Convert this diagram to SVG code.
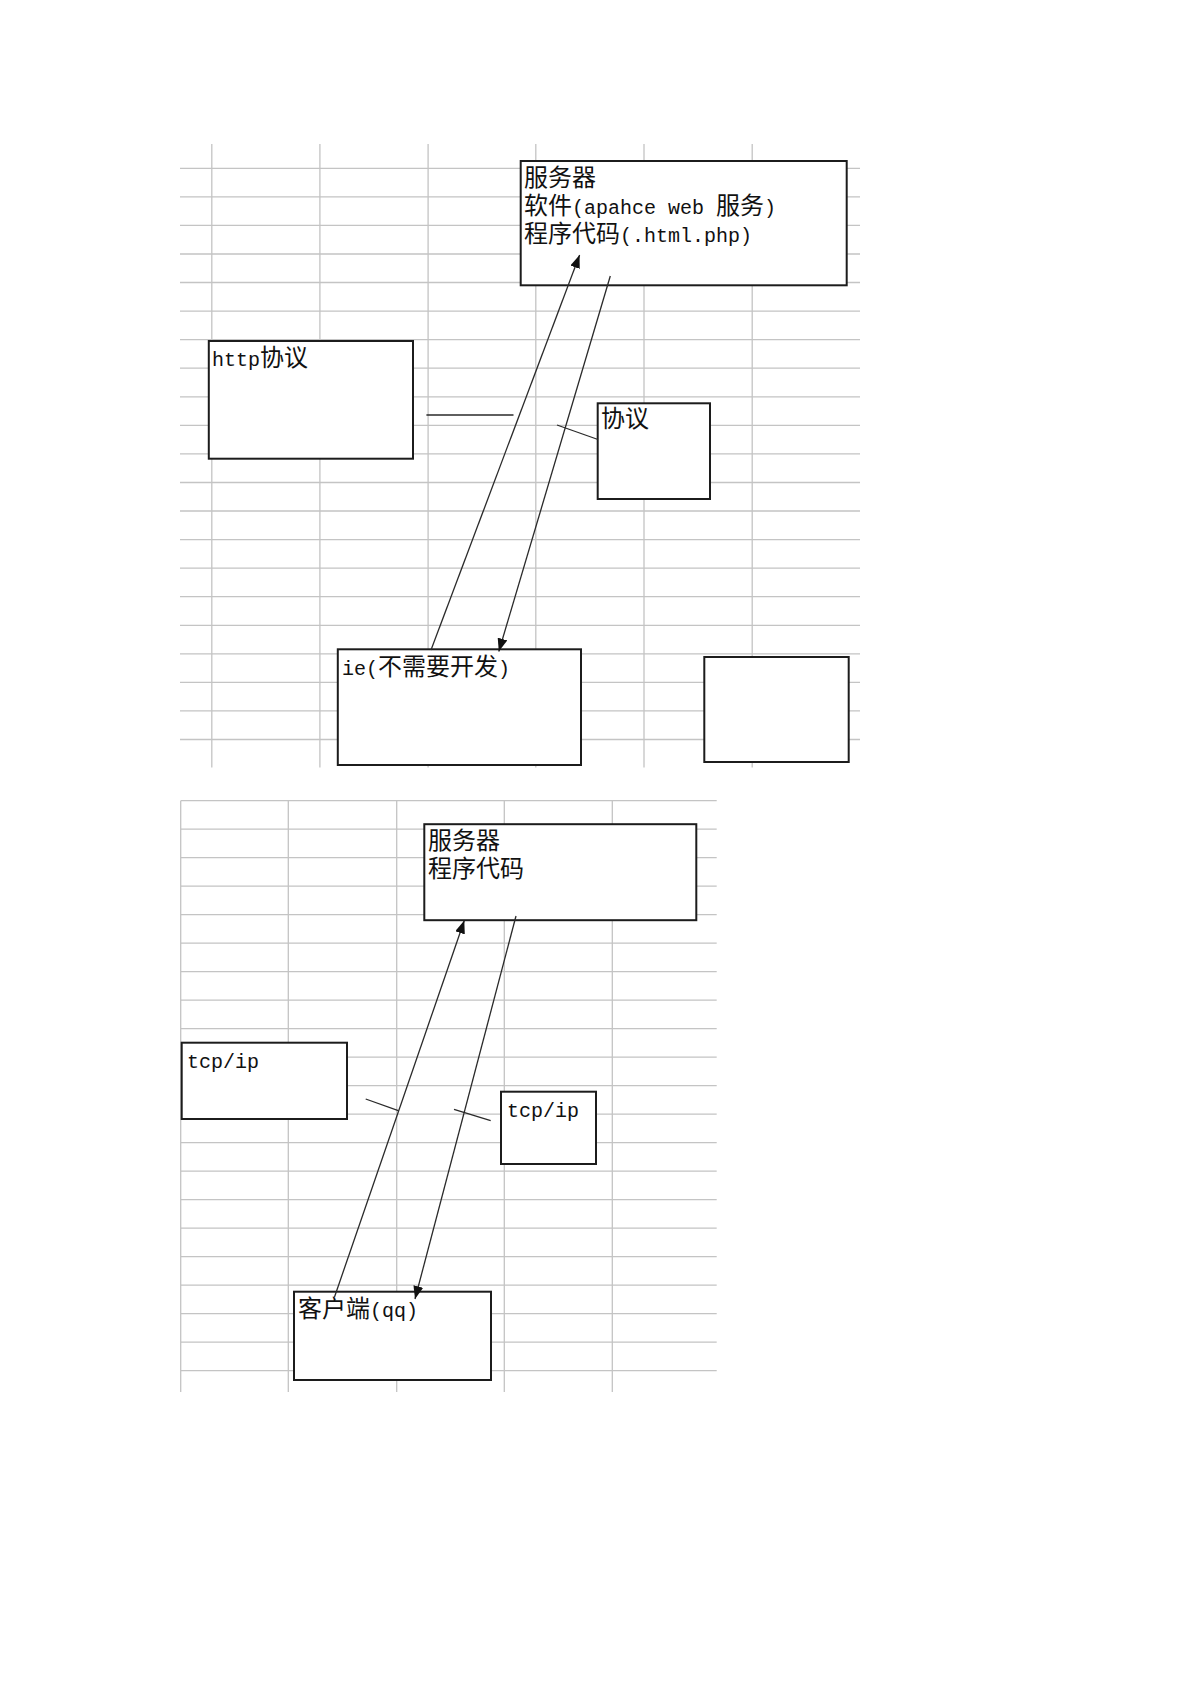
<svg xmlns="http://www.w3.org/2000/svg" width="1192" height="1685" viewBox="0 0 1192 1685">
<style>
.grid{fill:none;stroke:#c4c4c4;stroke-width:1.3}
.box{fill:#fff;stroke:#1c1c1c;stroke-width:2}
.ln{fill:none;stroke:#2a2a2a;stroke-width:1.3}
.arr{marker-end:url(#ah)}
.t{fill:#111}
.c{font-family:"Noto Sans CJK SC","Noto Sans CJK TC",sans-serif;font-size:24px}
.l{font-family:"Liberation Mono","DejaVu Sans Mono",monospace;font-size:20px}
</style>
<defs>
<marker id="ah" markerUnits="userSpaceOnUse" markerWidth="14" markerHeight="10" refX="13" refY="5" orient="auto">
<path d="M0,0 L13,5 L0,10 Z" fill="#111"/>
</marker>
</defs>
<rect width="1192" height="1685" fill="#fff"/>
<g id="grid-top">
<path class="grid" d="M180,168.3H860M180,196.9H860M180,225.4H860M180,254H860M180,282.5H860M180,311.1H860M180,339.7H860M180,368.2H860M180,396.8H860M180,425.3H860M180,453.9H860M180,482.5H860M180,511H860M180,539.6H860M180,568.1H860M180,596.7H860M180,625.3H860M180,653.8H860M180,682.4H860M180,710.9H860M180,739.5H860"/>
<path class="grid" d="M211.8,144V767.5M319.9,144V767.5M428.1,144V767.5M535.8,144V767.5M644,144V767.5M752.2,144V767.5"/>
</g>
<g id="grid-bottom">
<path class="grid" d="M180.7,800.7H716.7M180.7,829.2H716.7M180.7,857.7H716.7M180.7,886.2H716.7M180.7,914.7H716.7M180.7,943.2H716.7M180.7,971.7H716.7M180.7,1000.2H716.7M180.7,1028.7H716.7M180.7,1057.2H716.7M180.7,1085.7H716.7M180.7,1114.2H716.7M180.7,1142.7H716.7M180.7,1171.2H716.7M180.7,1199.7H716.7M180.7,1228.2H716.7M180.7,1256.7H716.7M180.7,1285.2H716.7M180.7,1313.7H716.7M180.7,1342.2H716.7M180.7,1370.7H716.7"/>
<path class="grid" d="M180.7,800.7V1392M288.3,800.7V1392M396.7,800.7V1392M504.3,800.7V1392M612.3,800.7V1392"/>
</g>
<g id="server1">
<rect class="box" x="520.7" y="161" width="326" height="124.3"/>
<text class="t" x="524" y="185.5"><tspan class="c">服务器</tspan></text>
<text class="t" x="524" y="213.5"><tspan class="c">软件</tspan><tspan class="l" xml:space="preserve">(apahce web </tspan><tspan class="c">服务</tspan><tspan class="l">)</tspan></text>
<text class="t" x="524" y="241.5"><tspan class="c">程序代码</tspan><tspan class="l">(.html.php)</tspan></text>
</g>
<g id="http">
<rect class="box" x="208.8" y="341" width="204.2" height="117.7"/>
<text class="t" x="212" y="365.5"><tspan class="l">http</tspan><tspan class="c">协议</tspan></text>
</g>
<g id="protocol">
<rect class="box" x="597.7" y="403.3" width="112.3" height="95.7"/>
<text class="t c" x="601" y="427">协议</text>
</g>
<g id="ie">
<rect class="box" x="337.8" y="649.3" width="243.2" height="115.7"/>
<text class="t" x="342" y="674.5"><tspan class="l">ie(</tspan><tspan class="c">不需要开发</tspan><tspan class="l">)</tspan></text>
</g>
<g id="empty">
<rect class="box" x="704.3" y="657" width="144.4" height="105"/>
</g>
<g id="server2">
<rect class="box" x="424.3" y="824.2" width="272" height="96"/>
<text class="t c" x="428" y="849">服务器</text>
<text class="t c" x="428" y="877">程序代码</text>
</g>
<g id="tcpip-left">
<rect class="box" x="181.7" y="1042.7" width="165.3" height="76.3"/>
<text class="t l" x="187" y="1068">tcp/ip</text>
</g>
<g id="tcpip-right">
<rect class="box" x="501" y="1091.7" width="95" height="72.3"/>
<text class="t l" x="507" y="1116.5">tcp/ip</text>
</g>
<g id="client">
<rect class="box" x="294" y="1291.7" width="197" height="88.3"/>
<text class="t" x="298" y="1317"><tspan class="c">客户端</tspan><tspan class="l">(qq)</tspan></text>
</g>
<g id="connectors">
<line class="ln arr" x1="431" y1="650" x2="579.6" y2="255"/>
<line class="ln arr" x1="610.3" y1="276" x2="498.8" y2="651.5"/>
<line class="ln" x1="426.4" y1="415" x2="513.5" y2="415"/>
<line class="ln" x1="557" y1="425" x2="598" y2="439.5"/>
<line class="ln arr" x1="334.5" y1="1297" x2="464.3" y2="920.5"/>
<line class="ln arr" x1="516" y1="916" x2="415" y2="1299"/>
<line class="ln" x1="365.7" y1="1099" x2="398.3" y2="1110.7"/>
<line class="ln" x1="454" y1="1109.3" x2="490.7" y2="1120.7"/>
</g>
</svg>
